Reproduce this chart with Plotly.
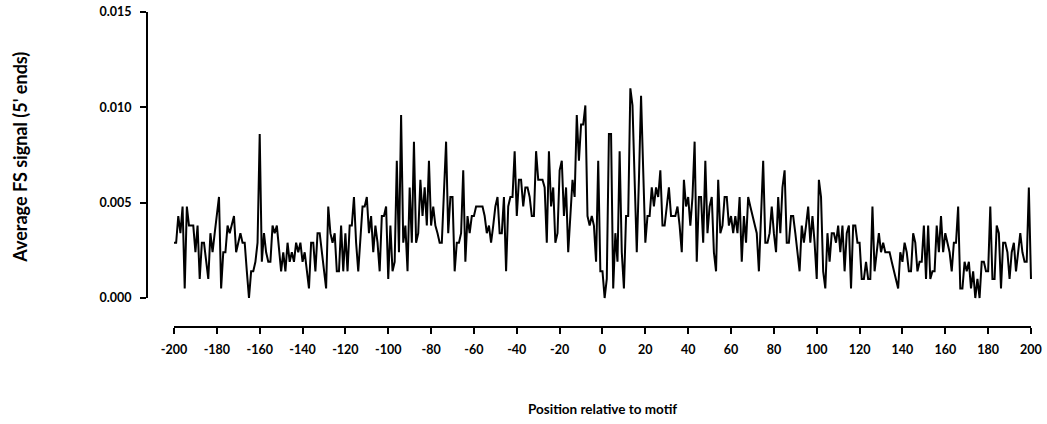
import plotly.graph_objects as go

# Positions relative to motif (categories on the x axis)
positions = list(range(-200, 201))

# Average FS signal (5' ends)
signal_m200_m170 = [0.0029, 0.0029, 0.0043, 0.0034, 0.0048, 0.0005, 0.0048, 0.0038, 0.0038, 0.0038,
                    0.0024, 0.0038, 0.0010, 0.0029, 0.0029, 0.0019, 0.0010, 0.0034, 0.0024, 0.0034,
                    0.0043, 0.0053, 0.0005, 0.0024, 0.0024, 0.0038, 0.0034, 0.0038, 0.0043, 0.0024,
                    0.0029]
signal_m169_m135 = [0.0034, 0.0029, 0.0029, 0.0014, 0.0000, 0.0014, 0.0014, 0.0019, 0.0029, 0.0086,
                    0.0019, 0.0034, 0.0024, 0.0019, 0.0019, 0.0038, 0.0034, 0.0038, 0.0024, 0.0014,
                    0.0024, 0.0014, 0.0029, 0.0019, 0.0024, 0.0019, 0.0029, 0.0024, 0.0029, 0.0019,
                    0.0024, 0.0014, 0.0005, 0.0029, 0.0029]
signal_m134_m102 = [0.0014, 0.0034, 0.0034, 0.0024, 0.0014, 0.0005, 0.0048, 0.0034, 0.0029, 0.0034,
                    0.0014, 0.0014, 0.0038, 0.0014, 0.0034, 0.0014, 0.0038, 0.0038, 0.0053, 0.0029,
                    0.0014, 0.0034, 0.0048, 0.0048, 0.0053, 0.0034, 0.0043, 0.0024, 0.0038, 0.0029,
                    0.0014, 0.0043, 0.0043]
signal_m101_m68 = [0.0048, 0.0010, 0.0038, 0.0014, 0.0019, 0.0072, 0.0024, 0.0096, 0.0029, 0.0038,
                   0.0014, 0.0058, 0.0029, 0.0082, 0.0029, 0.0034, 0.0062, 0.0043, 0.0058, 0.0038,
                   0.0072, 0.0038, 0.0048, 0.0038, 0.0034, 0.0029, 0.0029, 0.0058, 0.0082, 0.0034,
                   0.0053, 0.0053, 0.0014, 0.0029]
signal_m67_m33 = [0.0029, 0.0034, 0.0067, 0.0019, 0.0043, 0.0034, 0.0043, 0.0043, 0.0048, 0.0048,
                  0.0048, 0.0048, 0.0043, 0.0034, 0.0038, 0.0029, 0.0038, 0.0048, 0.0053, 0.0034,
                  0.0034, 0.0053, 0.0014, 0.0048, 0.0053, 0.0053, 0.0077, 0.0043, 0.0062, 0.0062,
                  0.0048, 0.0058, 0.0058, 0.0053, 0.0043]
signal_m32_0 = [0.0043, 0.0077, 0.0062, 0.0062, 0.0062, 0.0058, 0.0029, 0.0077, 0.0048, 0.0058,
                0.0029, 0.0034, 0.0067, 0.0072, 0.0043, 0.0058, 0.0024, 0.0043, 0.0062, 0.0053,
                0.0096, 0.0072, 0.0091, 0.0091, 0.0101, 0.0043, 0.0038, 0.0043, 0.0038, 0.0019,
                0.0072, 0.0014, 0.0014]
signal_1_33 = [0.0000, 0.0010, 0.0086, 0.0086, 0.0005, 0.0034, 0.0019, 0.0077, 0.0024, 0.0005,
               0.0043, 0.0043, 0.0110, 0.0101, 0.0062, 0.0024, 0.0062, 0.0106, 0.0067, 0.0029,
               0.0043, 0.0043, 0.0058, 0.0048, 0.0058, 0.0053, 0.0067, 0.0038, 0.0038, 0.0048,
               0.0058, 0.0043, 0.0043]
signal_34_66 = [0.0043, 0.0048, 0.0038, 0.0024, 0.0062, 0.0048, 0.0053, 0.0038, 0.0053, 0.0082,
                0.0019, 0.0053, 0.0053, 0.0029, 0.0072, 0.0034, 0.0048, 0.0053, 0.0024, 0.0014,
                0.0062, 0.0034, 0.0038, 0.0053, 0.0053, 0.0038, 0.0043, 0.0034, 0.0043, 0.0034,
                0.0053, 0.0019, 0.0043]
signal_67_100 = [0.0029, 0.0053, 0.0048, 0.0043, 0.0038, 0.0034, 0.0014, 0.0043, 0.0072, 0.0029,
                 0.0029, 0.0034, 0.0048, 0.0034, 0.0024, 0.0053, 0.0034, 0.0058, 0.0067, 0.0029,
                 0.0029, 0.0043, 0.0043, 0.0034, 0.0024, 0.0014, 0.0038, 0.0029, 0.0038, 0.0048,
                 0.0029, 0.0043, 0.0029, 0.0010]
signal_101_134 = [0.0062, 0.0053, 0.0014, 0.0005, 0.0034, 0.0019, 0.0034, 0.0034, 0.0029, 0.0038,
                  0.0024, 0.0038, 0.0014, 0.0034, 0.0038, 0.0005, 0.0038, 0.0038, 0.0029, 0.0029,
                  0.0010, 0.0010, 0.0019, 0.0010, 0.0010, 0.0048, 0.0014, 0.0024, 0.0034, 0.0024,
                  0.0029, 0.0024, 0.0024, 0.0024]
signal_135_167 = [0.0019, 0.0014, 0.0010, 0.0005, 0.0024, 0.0019, 0.0029, 0.0024, 0.0014, 0.0014,
                  0.0034, 0.0029, 0.0014, 0.0019, 0.0019, 0.0038, 0.0010, 0.0038, 0.0010, 0.0014,
                  0.0014, 0.0038, 0.0024, 0.0043, 0.0024, 0.0034, 0.0029, 0.0024, 0.0014, 0.0029,
                  0.0029, 0.0048, 0.0005]
signal_168_200 = [0.0005, 0.0019, 0.0014, 0.0019, 0.0005, 0.0014, 0.0000, 0.0010, 0.0000, 0.0019,
                  0.0019, 0.0014, 0.0014, 0.0048, 0.0010, 0.0010, 0.0038, 0.0034, 0.0005, 0.0029,
                  0.0029, 0.0024, 0.0010, 0.0024, 0.0029, 0.0014, 0.0024, 0.0034, 0.0024, 0.0019,
                  0.0019, 0.0058, 0.0010]

signal = (signal_m200_m170 + signal_m169_m135 + signal_m134_m102 + signal_m101_m68
          + signal_m67_m33 + signal_m32_0 + signal_1_33 + signal_34_66 + signal_67_100
          + signal_101_134 + signal_135_167 + signal_168_200)

x_tick_vals = list(range(-200, 201, 20))
x_tick_text = [str(v) for v in x_tick_vals]
y_tick_vals = [0.0, 0.005, 0.010, 0.015]
y_tick_text = ["0.000", "0.005", "0.010", "0.015"]

FONT = "Lato"

fig = go.Figure()
fig.add_trace(go.Scatter(
    x=positions, y=signal, mode="lines",
    line=dict(color="black", width=2),
    hoverinfo="x+y", showlegend=False,
))

fig.update_layout(
    width=1047, height=424,
    margin=dict(l=147, r=15, t=12, b=97, autoexpand=False),
    plot_bgcolor="white", paper_bgcolor="white",
    font=dict(family=FONT, size=12, color="black"),
    xaxis=dict(
        range=[-212.6, 200.47], showgrid=False, zeroline=False, showline=False,
        automargin=False,
        tickvals=x_tick_vals, ticktext=x_tick_text,
        ticks="outside", ticklen=6, tickwidth=2, tickcolor="black",
        tickfont=dict(family=FONT, size=12.5, color="black", weight="bold"),
        ticklabelstandoff=5,
    ),
    yaxis=dict(
        range=[-0.00152, 0.015], showgrid=False, zeroline=False, showline=False,
        automargin=False,
        tickvals=y_tick_vals, ticktext=y_tick_text,
        ticks="outside", ticklen=6, tickwidth=2, tickcolor="black",
        tickfont=dict(family=FONT, size=12.5, color="black", weight="bold"),
        ticklabelstandoff=6,
    ),
)

# Detached axis lines (Prism style)
fig.add_shape(type="line", xref="x", yref="paper", x0=-200, x1=200, y0=0, y1=0,
              line=dict(color="black", width=2))
fig.add_shape(type="line", xref="paper", yref="y", x0=0, x1=0, y0=0, y1=0.015,
              line=dict(color="black", width=2))

fig.add_annotation(text="Position relative to motif", xref="x", yref="paper",
                   x=0, y=-0.26, showarrow=False, xanchor="center", yanchor="middle",
                   font=dict(family=FONT, size=13.5, color="black", weight="bold"))
fig.add_annotation(text="Average FS signal (5' ends)", xref="paper", yref="y",
                   x=-0.1437, y=0.0074, showarrow=False, textangle=-90,
                   xanchor="center", yanchor="middle",
                   font=dict(family=FONT, size=18, color="black", weight="bold"))

fig.write_html(
    "out.html",
    config={"displayModeBar": False},
    post_script="document.body.style.margin='0';document.body.style.overflow='hidden';",
)
